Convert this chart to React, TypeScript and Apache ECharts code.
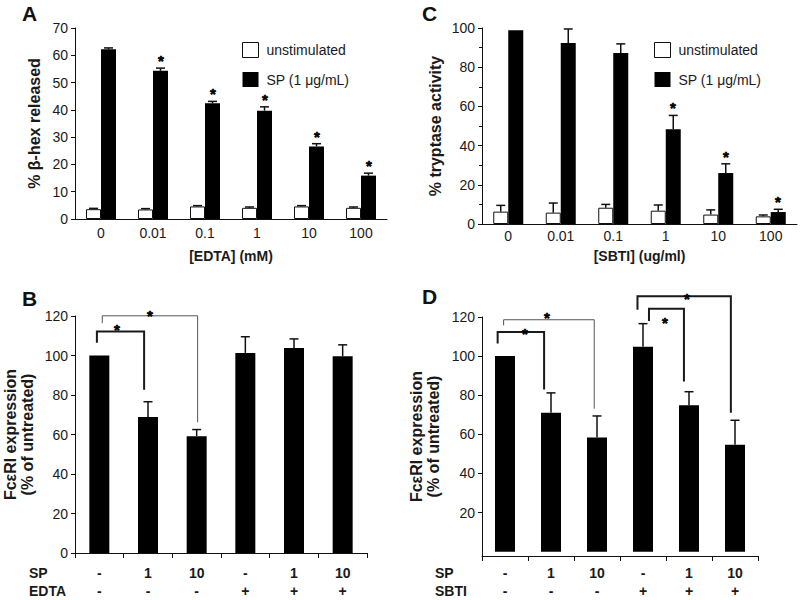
import React, { useEffect, useRef } from "react";
import * as echarts from "echarts";

const FONT = '"Liberation Sans", Arial, Helvetica, sans-serif';
const INK = "#111";
const TXT = "#1a1a1a";

// ---------- Panel A : beta-hex release vs EDTA ----------
const edtaConc = ["0", "0.01", "0.1", "1", "10", "100"];
const hexUnstim = [3.6, 3.5, 4.6, 4.1, 4.6, 4.1];
const hexUnstimErr = [0.3, 0.3, 0.3, 0.3, 0.3, 0.3];
const hexSP = [62.2, 54.3, 42.4, 39.7, 26.6, 15.9];
const hexSPErr = [0.5, 1.0, 0.7, 1.4, 1.0, 0.9];
const hexSPStars = [false, true, true, true, true, true];

// ---------- Panel C : tryptase activity vs SBTI ----------
const sbtiConc = ["0", "0.01", "0.1", "1", "10", "100"];
const tryUnstim = [6.3, 5.8, 8.3, 6.8, 4.8, 3.9];
const tryUnstimErr = [3.2, 4.9, 1.7, 2.9, 2.4, 0.7];
const trySP = [98.8, 92.3, 87.2, 48.4, 26.0, 6.1];
const trySPErr = [0, 7.2, 4.7, 7.0, 4.7, 1.4];
const trySPStars = [false, false, false, true, true, true];

// ---------- Panel B : FceRI expression, SP +/- EDTA ----------
const spRowB = ["-", "1", "10", "-", "1", "10"];
const edtaRowB = ["-", "-", "-", "+", "+", "+"];
const fcB = [100, 68.9, 59.1, 101.3, 103.8, 99.6];
const fcErrB = [0, 7.7, 3.4, 8.2, 4.6, 5.8];
// [left x, right x, top y, left end y, right end y] (data coords)
const bracketsB = [
  [-0.05, 0.92, 112.2, 106.4, 82.6],
  [0.06, 2.02, 120.1, 116.4, 66.2],
];
// [x, y] of the "*" over each bracket
const bracketStarsB = [
  [0.36, 114.7],
  [1.04, 122.0],
];

// ---------- Panel D : FceRI expression, SP +/- SBTI ----------
const spRowD = ["-", "1", "10", "-", "1", "10"];
const sbtiRowD = ["-", "-", "-", "+", "+", "+"];
const fcD = [100, 71.0, 58.4, 104.8, 74.9, 54.7];
const fcErrD = [0, 10.2, 11.0, 11.8, 6.9, 12.5];
const bracketsD = [
  [-0.16, 0.85, 112.3, 106.5, 82.9],
  [-0.03, 1.94, 118.6, 115.7, 73.1],
  [3.13, 3.89, 124.2, 117.9, 87.0],
  [2.88, 4.91, 130.6, 123.7, 71.1],
];
const bracketStarsD = [
  [0.44, 113.2],
  [0.91, 121.6],
  [3.48, 119.1],
  [3.95, 131.4],
];
const fcTickValues = [20, 40, 60, 80, 100, 120];

// styles (not data)
const bracketWidthB = [2, 1];
const bracketWidthD = [2, 1, 2, 2];

const starStyle = {
  text: "*",
  fill: "#000",
  stroke: "#000",
  lineWidth: 0.6,
  font: `bold 15px ${FONT}`,
  align: "center",
  verticalAlign: "middle",
};

function errorBars(xAxisIndex: number, yAxisIndex: number, vals: number[], errs: number[], offset: number) {
  return {
    type: "custom",
    xAxisIndex,
    yAxisIndex,
    z: 5,
    silent: true,
    itemStyle: { color: INK },
    data: vals.map((v, i) => [i, v, v + errs[i]]),
    renderItem: (params: any, api: any) => {
      const base = api.coord([api.value(0), api.value(1)]);
      const top = api.coord([api.value(0), api.value(2)]);
      const x = base[0] + offset;
      if (Math.abs(base[1] - top[1]) < 0.8) return { type: "group", children: [] };
      return {
        type: "group",
        children: [
          { type: "line", shape: { x1: x, y1: base[1], x2: x, y2: top[1] }, style: { stroke: INK, lineWidth: 1.5 } },
          { type: "line", shape: { x1: x - 4.5, y1: top[1], x2: x + 4.5, y2: top[1] }, style: { stroke: INK, lineWidth: 1.5 } },
        ],
      };
    },
  };
}

function barStars(xAxisIndex: number, yAxisIndex: number, vals: number[], errs: number[], flags: boolean[], offset: number) {
  const data: number[][] = [];
  vals.forEach((v, i) => {
    if (flags[i]) data.push([i, v + errs[i]]);
  });
  return {
    type: "custom",
    xAxisIndex,
    yAxisIndex,
    z: 6,
    silent: true,
    itemStyle: { color: INK },
    data,
    renderItem: (params: any, api: any) => {
      const p = api.coord([api.value(0), api.value(1)]);
      return { type: "text", x: Math.round(p[0] + offset), y: Math.round(p[1] - 8), style: { ...starStyle } };
    },
  };
}

function pointStars(xAxisIndex: number, yAxisIndex: number, list: number[][]) {
  return {
    type: "custom",
    xAxisIndex,
    yAxisIndex,
    z: 8,
    silent: true,
    clip: false,
    itemStyle: { color: INK },
    data: list,
    renderItem: (params: any, api: any) => {
      const p = api.coord([api.value(0), api.value(1)]);
      return { type: "text", x: Math.round(p[0]), y: Math.round(p[1] + 3), style: { ...starStyle } };
    },
  };
}

function brackets(xAxisIndex: number, yAxisIndex: number, list: number[][], widths: number[]) {
  return {
    type: "custom",
    xAxisIndex,
    yAxisIndex,
    z: 7,
    silent: true,
    clip: false,
    itemStyle: { color: INK },
    data: list,
    renderItem: (params: any, api: any) => {
      const l = api.value(0), r = api.value(1), t = api.value(2), lb = api.value(3), rb = api.value(4);
      const pLB = api.coord([l, lb]);
      const pTL = api.coord([l, t]);
      const pTR = api.coord([r, t]);
      const pRB = api.coord([r, rb]);
      const w = widths[params.dataIndex];
      return {
        type: "polyline",
        shape: { points: [pLB, pTL, pTR, pRB] },
        style: { stroke: w > 1.5 ? "#1a1a1a" : "#555", lineWidth: w, fill: "none" },
      };
    },
  };
}

const axisLine = { show: true, onZero: false, lineStyle: { color: INK, width: 1 } };
const tickLabel = { color: TXT, fontSize: 14, fontFamily: FONT };
const xNameStyle = { color: TXT, fontSize: 14, fontWeight: "bold" as const, fontFamily: FONT };
const yNameStyle = { color: TXT, fontSize: 16, fontWeight: "bold" as const, fontFamily: FONT, lineHeight: 17 };

function legendFor(left: number) {
  return {
    left,
    top: 37,
    orient: "vertical",
    icon: "rect",
    itemWidth: 16,
    itemHeight: 15,
    itemGap: 14,
    selectedMode: false,
    textStyle: { color: TXT, fontSize: 14, fontFamily: FONT, padding: [0, 0, 0, 3] },
    data: [
      { name: "unstimulated", itemStyle: { color: "#fff", borderColor: INK, borderWidth: 1 } },
      { name: "SP (1 μg/mL)", itemStyle: { color: "#000", borderWidth: 0 } },
    ],
  };
}

function rowLabel(x: number, y: number, text: string) {
  return {
    type: "text",
    left: x,
    top: y - 9,
    style: { text, fill: TXT, font: `bold 14px ${FONT}` },
  };
}

function letter(x: number, y: number, text: string) {
  return {
    type: "text",
    left: x,
    top: y - 12,
    style: { text, fill: INK, font: `bold 21px ${FONT}` },
  };
}

export default function App() {
  const ref = useRef<HTMLDivElement>(null);
  useEffect(() => {
    if (!ref.current) return;
    const chart = echarts.init(ref.current, null, { renderer: "svg" });
    const option: any = {
      animation: false,
      backgroundColor: "#fff",
      textStyle: { fontFamily: FONT },
      grid: [
        { left: 75, top: 28, width: 312, height: 191 },
        { left: 482, top: 28, width: 315, height: 196 },
        { left: 75, top: 316, width: 292, height: 239 },
        { left: 482, top: 317, width: 276, height: 241 },
      ],
      legend: [legendFor(237), legendFor(649)],
      xAxis: [
        {
          type: "category", gridIndex: 0, data: edtaConc,
          axisLine, axisTick: { show: false },
          axisLabel: { ...tickLabel, margin: 7 },
          name: "[EDTA] (mM)", nameLocation: "middle", nameGap: 30, nameTextStyle: xNameStyle,
        },
        {
          type: "category", gridIndex: 1, data: sbtiConc,
          axisLine, axisTick: { show: false },
          axisLabel: { ...tickLabel, margin: 5 },
          name: "[SBTI] (ug/ml)", nameLocation: "middle", nameGap: 25, nameTextStyle: xNameStyle,
        },
        {
          type: "category", gridIndex: 2, data: spRowB.map((_, i) => String(i)),
          axisLine, axisTick: { show: true, length: 5, lineStyle: { color: INK } },
          axisLabel: {
            color: TXT, fontSize: 14, fontWeight: "bold", fontFamily: FONT, lineHeight: 18, margin: 11,
            formatter: (_v: string, i: number) => `${spRowB[i]}\n${edtaRowB[i]}`,
          },
        },
        {
          type: "category", gridIndex: 3, data: spRowD.map((_, i) => String(i)),
          axisLine, axisTick: { show: true, length: 5, lineStyle: { color: INK } },
          axisLabel: {
            color: TXT, fontSize: 14, fontWeight: "bold", fontFamily: FONT, lineHeight: 18, margin: 8,
            formatter: (_v: string, i: number) => `${spRowD[i]}\n${sbtiRowD[i]}`,
          },
        },
        { type: "value", gridIndex: 2, min: -0.5, max: 5.5, show: false },
        { type: "value", gridIndex: 3, min: -0.5, max: 5.5, show: false },
      ],
      yAxis: [
        {
          type: "value", gridIndex: 0, min: 0, max: 70, interval: 10,
          axisLine, axisTick: { show: true, length: 4, lineStyle: { color: INK } },
          axisLabel: { ...tickLabel, margin: 7, showMaxLabel: true }, splitLine: { show: false },
          name: "% β-hex released", nameLocation: "middle", nameGap: 32, nameRotate: 90, nameTextStyle: yNameStyle,
        },
        {
          type: "value", gridIndex: 1, min: 0, max: 100, interval: 20,
          axisLine, axisTick: { show: true, length: 4, lineStyle: { color: INK } },
          minorTick: { show: true, splitNumber: 2, length: 3, lineStyle: { color: INK } },
          axisLabel: { ...tickLabel, margin: 7, showMaxLabel: true }, splitLine: { show: false },
          name: "% tryptase activity", nameLocation: "middle", nameGap: 38, nameRotate: 90, nameTextStyle: yNameStyle,
        },
        {
          type: "value", gridIndex: 2, min: 0, max: 120, interval: 20,
          axisLine, axisTick: { show: true, length: 4, lineStyle: { color: INK } },
          axisLabel: { ...tickLabel, margin: 7, showMaxLabel: true }, splitLine: { show: false },
          name: "FcεRI expression\n(% of untreated)", nameLocation: "middle", nameGap: 39, nameRotate: 90, nameTextStyle: yNameStyle,
        },
        {
          type: "value", gridIndex: 3, min: -2.2, max: 120,
          axisLine,
          axisTick: { show: true, length: 4, lineStyle: { color: INK }, customValues: fcTickValues },
          axisLabel: { ...tickLabel, margin: 7, customValues: fcTickValues }, splitLine: { show: false },
          name: "FcεRI expression\n(% of untreated)", nameLocation: "middle", nameGap: 40, nameRotate: 90, nameTextStyle: yNameStyle,
        },
      ],
      series: [
        {
          type: "bar", name: "unstimulated", xAxisIndex: 0, yAxisIndex: 0, data: hexUnstim,
          barWidth: 15, barGap: "0%", itemStyle: { color: "#fff", borderColor: INK, borderWidth: 1 },
        },
        {
          type: "bar", name: "SP (1 μg/mL)", xAxisIndex: 0, yAxisIndex: 0, data: hexSP,
          barWidth: 15, barGap: "0%", itemStyle: { color: "#000" },
        },
        errorBars(0, 0, hexUnstim, hexUnstimErr, -7.5),
        errorBars(0, 0, hexSP, hexSPErr, 7.5),
        barStars(0, 0, hexSP, hexSPErr, hexSPStars, 7.5),
        {
          type: "bar", name: "unstimulated", xAxisIndex: 1, yAxisIndex: 1, data: tryUnstim,
          barWidth: 15, barGap: "0%", itemStyle: { color: "#fff", borderColor: INK, borderWidth: 1 },
        },
        {
          type: "bar", name: "SP (1 μg/mL)", xAxisIndex: 1, yAxisIndex: 1, data: trySP,
          barWidth: 15, barGap: "0%", itemStyle: { color: "#000" },
        },
        errorBars(1, 1, tryUnstim, tryUnstimErr, -7.5),
        errorBars(1, 1, trySP, trySPErr, 7.5),
        barStars(1, 1, trySP, trySPErr, trySPStars, 7.5),
        {
          type: "bar", name: "FcεRI (EDTA)", xAxisIndex: 2, yAxisIndex: 2, data: fcB,
          barWidth: 20, itemStyle: { color: "#000" },
        },
        errorBars(2, 2, fcB, fcErrB, 0),
        brackets(4, 2, bracketsB, bracketWidthB),
        pointStars(4, 2, bracketStarsB),
        {
          type: "bar", name: "FcεRI (SBTI)", xAxisIndex: 3, yAxisIndex: 3, data: fcD,
          barWidth: 20, itemStyle: { color: "#000" },
        },
        errorBars(3, 3, fcD, fcErrD, 0),
        brackets(5, 3, bracketsD, bracketWidthD),
        pointStars(5, 3, bracketStarsD),
      ],
      graphic: [
        letter(22, 15, "A"),
        letter(422, 15, "C"),
        letter(22, 300, "B"),
        letter(422, 298, "D"),
        rowLabel(29, 575, "SP"),
        rowLabel(29, 593, "EDTA"),
        rowLabel(435, 575, "SP"),
        rowLabel(435, 593, "SBTI"),
      ],
    };
    chart.setOption(option);
    return () => chart.dispose();
  }, []);
  return (
    <div
      ref={ref}
      style={{ position: "absolute", left: 0, top: 0, width: 800, height: 600, background: "#fff" }}
    />
  );
}
